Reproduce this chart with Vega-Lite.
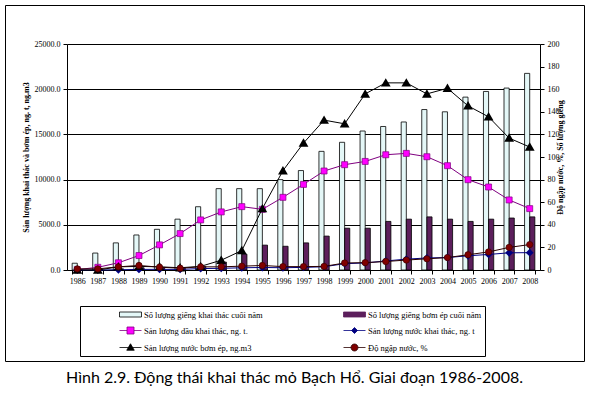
{
 "$schema": "https://vega.github.io/schema/vega-lite/v6.json",
 "width": 579,
 "height": 356,
 "autosize": {"type": "none"},
 "padding": {"left": 5, "top": 5, "right": 5, "bottom": 37},
 "background": "white",
 "config": {
  "view": {"stroke": "black", "strokeWidth": 1},
  "font": "Liberation Serif",
  "axis": {"labelFont": "Liberation Serif", "labelFontSize": 8, "labelColor": "black", "domainColor": "black", "domainWidth": 1, "tickColor": "black", "tickSize": 4, "tickWidth": 1, "titleFont": "Liberation Serif", "titleFontSize": 8, "titleFontWeight": "bold", "titleColor": "black", "grid": false},
  "legend": {"symbolOpacity": 1}
 },
 "title": {"text": "Hình 2.9. Động thái khai thác mỏ Bạch Hổ. Giai đoạn 1986-2008.", "orient": "bottom", "anchor": "middle", "frame": "group", "font": "Lato", "fontSize": 16, "fontWeight": "normal", "color": "black", "offset": 9},
 "datasets": {
  "d": [
   {"year":"1986","s":"Số lượng giếng khai thác cuối năm","v":6},
   {"year":"1987","s":"Số lượng giếng khai thác cuối năm","v":15},
   {"year":"1988","s":"Số lượng giếng khai thác cuối năm","v":24},
   {"year":"1989","s":"Số lượng giếng khai thác cuối năm","v":31},
   {"year":"1990","s":"Số lượng giếng khai thác cuối năm","v":36},
   {"year":"1991","s":"Số lượng giếng khai thác cuối năm","v":45},
   {"year":"1992","s":"Số lượng giếng khai thác cuối năm","v":56},
   {"year":"1993","s":"Số lượng giếng khai thác cuối năm","v":72},
   {"year":"1994","s":"Số lượng giếng khai thác cuối năm","v":72},
   {"year":"1995","s":"Số lượng giếng khai thác cuối năm","v":72},
   {"year":"1996","s":"Số lượng giếng khai thác cuối năm","v":80},
   {"year":"1997","s":"Số lượng giếng khai thác cuối năm","v":88},
   {"year":"1998","s":"Số lượng giếng khai thác cuối năm","v":105},
   {"year":"1999","s":"Số lượng giếng khai thác cuối năm","v":113},
   {"year":"2000","s":"Số lượng giếng khai thác cuối năm","v":123},
   {"year":"2001","s":"Số lượng giếng khai thác cuối năm","v":127},
   {"year":"2002","s":"Số lượng giếng khai thác cuối năm","v":131},
   {"year":"2003","s":"Số lượng giếng khai thác cuối năm","v":142},
   {"year":"2004","s":"Số lượng giếng khai thác cuối năm","v":140},
   {"year":"2005","s":"Số lượng giếng khai thác cuối năm","v":153},
   {"year":"2006","s":"Số lượng giếng khai thác cuối năm","v":158},
   {"year":"2007","s":"Số lượng giếng khai thác cuối năm","v":161},
   {"year":"2008","s":"Số lượng giếng khai thác cuối năm","v":174},
   {"year":"1986","s":"Số lượng giếng bơm ép cuối năm","v":0},
   {"year":"1987","s":"Số lượng giếng bơm ép cuối năm","v":0},
   {"year":"1988","s":"Số lượng giếng bơm ép cuối năm","v":1},
   {"year":"1989","s":"Số lượng giếng bơm ép cuối năm","v":2},
   {"year":"1990","s":"Số lượng giếng bơm ép cuối năm","v":2},
   {"year":"1991","s":"Số lượng giếng bơm ép cuối năm","v":2},
   {"year":"1992","s":"Số lượng giếng bơm ép cuối năm","v":3},
   {"year":"1993","s":"Số lượng giếng bơm ép cuối năm","v":7},
   {"year":"1994","s":"Số lượng giếng bơm ép cuối năm","v":14},
   {"year":"1995","s":"Số lượng giếng bơm ép cuối năm","v":22},
   {"year":"1996","s":"Số lượng giếng bơm ép cuối năm","v":21},
   {"year":"1997","s":"Số lượng giếng bơm ép cuối năm","v":24},
   {"year":"1998","s":"Số lượng giếng bơm ép cuối năm","v":30},
   {"year":"1999","s":"Số lượng giếng bơm ép cuối năm","v":37},
   {"year":"2000","s":"Số lượng giếng bơm ép cuối năm","v":37},
   {"year":"2001","s":"Số lượng giếng bơm ép cuối năm","v":43},
   {"year":"2002","s":"Số lượng giếng bơm ép cuối năm","v":45},
   {"year":"2003","s":"Số lượng giếng bơm ép cuối năm","v":47},
   {"year":"2004","s":"Số lượng giếng bơm ép cuối năm","v":45},
   {"year":"2005","s":"Số lượng giếng bơm ép cuối năm","v":43},
   {"year":"2006","s":"Số lượng giếng bơm ép cuối năm","v":45},
   {"year":"2007","s":"Số lượng giếng bơm ép cuối năm","v":46},
   {"year":"2008","s":"Số lượng giếng bơm ép cuối năm","v":47},
   {"year":"1986","s":"Sản lượng dầu khai thác, ng. t.","v":40},
   {"year":"1987","s":"Sản lượng dầu khai thác, ng. t.","v":300},
   {"year":"1988","s":"Sản lượng dầu khai thác, ng. t.","v":800},
   {"year":"1989","s":"Sản lượng dầu khai thác, ng. t.","v":1600},
   {"year":"1990","s":"Sản lượng dầu khai thác, ng. t.","v":2780},
   {"year":"1991","s":"Sản lượng dầu khai thác, ng. t.","v":4030},
   {"year":"1992","s":"Sản lượng dầu khai thác, ng. t.","v":5540},
   {"year":"1993","s":"Sản lượng dầu khai thác, ng. t.","v":6425},
   {"year":"1994","s":"Sản lượng dầu khai thác, ng. t.","v":7010},
   {"year":"1995","s":"Sản lượng dầu khai thác, ng. t.","v":6710},
   {"year":"1996","s":"Sản lượng dầu khai thác, ng. t.","v":8040},
   {"year":"1997","s":"Sản lượng dầu khai thác, ng. t.","v":9470},
   {"year":"1998","s":"Sản lượng dầu khai thác, ng. t.","v":10950},
   {"year":"1999","s":"Sản lượng dầu khai thác, ng. t.","v":11650},
   {"year":"2000","s":"Sản lượng dầu khai thác, ng. t.","v":12010},
   {"year":"2001","s":"Sản lượng dầu khai thác, ng. t.","v":12750},
   {"year":"2002","s":"Sản lượng dầu khai thác, ng. t.","v":12900},
   {"year":"2003","s":"Sản lượng dầu khai thác, ng. t.","v":12530},
   {"year":"2004","s":"Sản lượng dầu khai thác, ng. t.","v":11540},
   {"year":"2005","s":"Sản lượng dầu khai thác, ng. t.","v":9990},
   {"year":"2006","s":"Sản lượng dầu khai thác, ng. t.","v":9180},
   {"year":"2007","s":"Sản lượng dầu khai thác, ng. t.","v":7750},
   {"year":"2008","s":"Sản lượng dầu khai thác, ng. t.","v":6790},
   {"year":"1986","s":"Sản lượng nước khai thác, ng. t","v":0},
   {"year":"1987","s":"Sản lượng nước khai thác, ng. t","v":3},
   {"year":"1988","s":"Sản lượng nước khai thác, ng. t","v":25},
   {"year":"1989","s":"Sản lượng nước khai thác, ng. t","v":65},
   {"year":"1990","s":"Sản lượng nước khai thác, ng. t","v":70},
   {"year":"1991","s":"Sản lượng nước khai thác, ng. t","v":65},
   {"year":"1992","s":"Sản lượng nước khai thác, ng. t","v":160},
   {"year":"1993","s":"Sản lượng nước khai thác, ng. t","v":185},
   {"year":"1994","s":"Sản lượng nước khai thác, ng. t","v":245},
   {"year":"1995","s":"Sản lượng nước khai thác, ng. t","v":280},
   {"year":"1996","s":"Sản lượng nước khai thác, ng. t","v":250},
   {"year":"1997","s":"Sản lượng nước khai thác, ng. t","v":290},
   {"year":"1998","s":"Sản lượng nước khai thác, ng. t","v":360},
   {"year":"1999","s":"Sản lượng nước khai thác, ng. t","v":700},
   {"year":"2000","s":"Sản lượng nước khai thác, ng. t","v":780},
   {"year":"2001","s":"Sản lượng nước khai thác, ng. t","v":1000},
   {"year":"2002","s":"Sản lượng nước khai thác, ng. t","v":1200},
   {"year":"2003","s":"Sản lượng nước khai thác, ng. t","v":1330},
   {"year":"2004","s":"Sản lượng nước khai thác, ng. t","v":1380},
   {"year":"2005","s":"Sản lượng nước khai thác, ng. t","v":1570},
   {"year":"2006","s":"Sản lượng nước khai thác, ng. t","v":1720},
   {"year":"2007","s":"Sản lượng nước khai thác, ng. t","v":1900},
   {"year":"2008","s":"Sản lượng nước khai thác, ng. t","v":1920},
   {"year":"1986","s":"Sản lượng nước bơm ép, ng.m3","v":0},
   {"year":"1987","s":"Sản lượng nước bơm ép, ng.m3","v":0},
   {"year":"1988","s":"Sản lượng nước bơm ép, ng.m3","v":350},
   {"year":"1989","s":"Sản lượng nước bơm ép, ng.m3","v":400},
   {"year":"1990","s":"Sản lượng nước bơm ép, ng.m3","v":350},
   {"year":"1991","s":"Sản lượng nước bơm ép, ng.m3","v":250},
   {"year":"1992","s":"Sản lượng nước bơm ép, ng.m3","v":400},
   {"year":"1993","s":"Sản lượng nước bơm ép, ng.m3","v":1085},
   {"year":"1994","s":"Sản lượng nước bơm ép, ng.m3","v":2150},
   {"year":"1995","s":"Sản lượng nước bơm ép, ng.m3","v":6790},
   {"year":"1996","s":"Sản lượng nước bơm ép, ng.m3","v":10990},
   {"year":"1997","s":"Sản lượng nước bơm ép, ng.m3","v":14040},
   {"year":"1998","s":"Sản lượng nước bơm ép, ng.m3","v":16580},
   {"year":"1999","s":"Sản lượng nước bơm ép, ng.m3","v":16170},
   {"year":"2000","s":"Sản lượng nước bơm ép, ng.m3","v":19480},
   {"year":"2001","s":"Sản lượng nước bơm ép, ng.m3","v":20700},
   {"year":"2002","s":"Sản lượng nước bơm ép, ng.m3","v":20700},
   {"year":"2003","s":"Sản lượng nước bơm ép, ng.m3","v":19480},
   {"year":"2004","s":"Sản lượng nước bơm ép, ng.m3","v":20100},
   {"year":"2005","s":"Sản lượng nước bơm ép, ng.m3","v":18160},
   {"year":"2006","s":"Sản lượng nước bơm ép, ng.m3","v":16940},
   {"year":"2007","s":"Sản lượng nước bơm ép, ng.m3","v":14590},
   {"year":"2008","s":"Sản lượng nước bơm ép, ng.m3","v":13600},
   {"year":"1986","s":"Độ ngập nước, %","v":1.0},
   {"year":"1987","s":"Độ ngập nước, %","v":1.0},
   {"year":"1988","s":"Độ ngập nước, %","v":2.8},
   {"year":"1989","s":"Độ ngập nước, %","v":4.0},
   {"year":"1990","s":"Độ ngập nước, %","v":2.5},
   {"year":"1991","s":"Độ ngập nước, %","v":1.6},
   {"year":"1992","s":"Độ ngập nước, %","v":2.8},
   {"year":"1993","s":"Độ ngập nước, %","v":2.8},
   {"year":"1994","s":"Độ ngập nước, %","v":3.4},
   {"year":"1995","s":"Độ ngập nước, %","v":4.0},
   {"year":"1996","s":"Độ ngập nước, %","v":3.0},
   {"year":"1997","s":"Độ ngập nước, %","v":3.0},
   {"year":"1998","s":"Độ ngập nước, %","v":3.2},
   {"year":"1999","s":"Độ ngập nước, %","v":6.2},
   {"year":"2000","s":"Độ ngập nước, %","v":6.5},
   {"year":"2001","s":"Độ ngập nước, %","v":7.5},
   {"year":"2002","s":"Độ ngập nước, %","v":8.8},
   {"year":"2003","s":"Độ ngập nước, %","v":9.9},
   {"year":"2004","s":"Độ ngập nước, %","v":11.0},
   {"year":"2005","s":"Độ ngập nước, %","v":13.5},
   {"year":"2006","s":"Độ ngập nước, %","v":16.0},
   {"year":"2007","s":"Độ ngập nước, %","v":20.0},
   {"year":"2008","s":"Độ ngập nước, %","v":22.5}
  ]
 },
 "data": {"name": "d"},
 "layer": [
  {
   "transform": [{"filter": {"field": "s", "oneOf": ["Số lượng giếng khai thác cuối năm", "Số lượng giếng bơm ép cuối năm"]}}],
   "mark": {"type": "bar", "stroke": "black", "strokeWidth": 0.8},
   "encoding": {
    "x": {"field": "year", "type": "ordinal", "scale": {"range": [62, 535], "paddingInner": 0.5, "paddingOuter": 0.25},
          "axis": {"orient": "bottom", "offset": -91, "title": null, "labelAngle": 0, "tickBand": "extent", "labelPadding": 3}},
    "xOffset": {"field": "s", "type": "nominal", "scale": {"domain": ["Số lượng giếng khai thác cuối năm", "Số lượng giếng bơm ép cuối năm"]}},
    "y": {"field": "v", "type": "quantitative", "scale": {"domain": [0, 200], "range": [265, 39], "nice": false},
          "axis": {"orient": "right", "offset": -44, "values": [0, 20, 40, 60, 80, 100, 120, 140, 160, 180, 200], "title": "Độ ngập nước, %, Số lượng giếng", "titleAngle": 270, "titlePadding": 5, "labelPadding": 3}},
    "color": {"field": "s", "type": "nominal",
             "scale": {"domain": ["Số lượng giếng khai thác cuối năm", "Số lượng giếng bơm ép cuối năm"],
                       "range": ["#E4F7F7", "#5C1F5C"]},
             "legend": null}
   }
  },
  {
   "transform": [{"filter": {"field": "s", "equal": "Sản lượng dầu khai thác, ng. t."}}],
   "mark": {"type": "line", "color": "#800080", "strokeWidth": 1, "point": {"shape": "square", "filled": true, "fill": "#FF00FF", "stroke": "#800080", "strokeWidth": 0.7, "size": 36}},
   "encoding": {
    "x": {"field": "year", "type": "ordinal"},
    "y": {"field": "v", "type": "quantitative", "scale": {"domain": [0, 25000], "range": [265, 39], "nice": false},
          "axis": {"orient": "left", "offset": -62, "values": [0, 5000, 10000, 15000, 20000, 25000], "format": ".1f", "grid": true, "gridColor": "black", "gridWidth": 1, "gridOpacity": 1, "title": "Sản lượng khai thác và bơm ép, ng. t, ng.m3", "titlePadding": 4, "labelPadding": 3}}
   }
  },
  {
   "transform": [{"filter": {"field": "s", "equal": "Sản lượng nước khai thác, ng. t"}}],
   "mark": {"type": "line", "color": "#000080", "strokeWidth": 1, "point": {"shape": "diamond", "filled": true, "fill": "#000080", "stroke": "#000080", "size": 25}},
   "encoding": {
    "x": {"field": "year", "type": "ordinal"},
    "y": {"field": "v", "type": "quantitative", "scale": {"domain": [0, 25000], "range": [265, 39], "nice": false}, "axis": null}
   }
  },
  {
   "transform": [{"filter": {"field": "s", "equal": "Sản lượng nước bơm ép, ng.m3"}}],
   "mark": {"type": "line", "color": "#000000", "strokeWidth": 1, "point": {"shape": "triangle-up", "filled": true, "fill": "#000000", "stroke": "#000000", "size": 40}},
   "encoding": {
    "x": {"field": "year", "type": "ordinal"},
    "y": {"field": "v", "type": "quantitative", "scale": {"domain": [0, 25000], "range": [265, 39], "nice": false}, "axis": null}
   }
  },
  {
   "transform": [{"filter": {"field": "s", "equal": "Độ ngập nước, %"}}],
   "mark": {"type": "line", "color": "#2a0000", "strokeWidth": 1, "point": {"shape": "circle", "filled": true, "fill": "#800000", "stroke": "#400000", "strokeWidth": 0.7, "size": 40}},
   "encoding": {
    "x": {"field": "year", "type": "ordinal"},
    "y": {"field": "v", "type": "quantitative", "scale": {"domain": [0, 200], "range": [265, 39], "nice": false}, "axis": null}
   }
  },
  {
   "mark": {"type": "point", "opacity": 0, "filled": true, "size": 100},
   "encoding": {
    "shape": {"field": "s", "type": "nominal",
              "scale": {"domain": ["Số lượng giếng khai thác cuối năm", "Số lượng giếng bơm ép cuối năm", "Sản lượng dầu khai thác, ng. t.", "Sản lượng nước khai thác, ng. t", "Sản lượng nước bơm ép, ng.m3", "Độ ngập nước, %"],
                        "range": ["M-2.2,-0.5H2.2V0.5H-2.2Z", "M-2.2,-0.5H2.2V0.5H-2.2Z", "M-2.2,0H-0.7M0.7,0H2.2M-0.7,-0.7H0.7V0.7H-0.7Z", "M-2.2,0H2.2M0,-0.6L0.6,0L0,0.6L-0.6,0Z", "M-2.2,0H2.2M0,-0.75L0.75,0.55H-0.75Z", "M-2.2,0H-0.7M0.7,0H2.2M-0.7,0A0.7,0.7,0,1,0,0.7,0A0.7,0.7,0,1,0,-0.7,0Z"]},
              "legend": {"title": null, "orient": "none", "legendX": 75, "legendY": 301, "columns": 2, "direction": "horizontal", "strokeColor": "black", "padding": 3, "symbolOffset": 42, "columnPadding": 44, "rowPadding": 6, "labelFont": "Liberation Serif", "labelFontSize": 8.5, "labelColor": "black", "symbolSize": 100, "symbolStrokeWidth": 0.8, "labelOffset": 8, "labelLimit": 300, "symbolOpacity": 1}},
    "fill": {"field": "s", "type": "nominal",
             "scale": {"domain": ["Số lượng giếng khai thác cuối năm", "Số lượng giếng bơm ép cuối năm", "Sản lượng dầu khai thác, ng. t.", "Sản lượng nước khai thác, ng. t", "Sản lượng nước bơm ép, ng.m3", "Độ ngập nước, %"],
                       "range": ["#E4F7F7", "#5C1F5C", "#FF00FF", "#000080", "#000000", "#800000"]}},
    "stroke": {"field": "s", "type": "nominal",
               "scale": {"domain": ["Số lượng giếng khai thác cuối năm", "Số lượng giếng bơm ép cuối năm", "Sản lượng dầu khai thác, ng. t.", "Sản lượng nước khai thác, ng. t", "Sản lượng nước bơm ép, ng.m3", "Độ ngập nước, %"],
                         "range": ["#000000", "#5C1F5C", "#800080", "#000080", "#000000", "#2a0000"]}}
   }
  }
 ],
 "resolve": {"scale": {"y": "independent"}}
}
